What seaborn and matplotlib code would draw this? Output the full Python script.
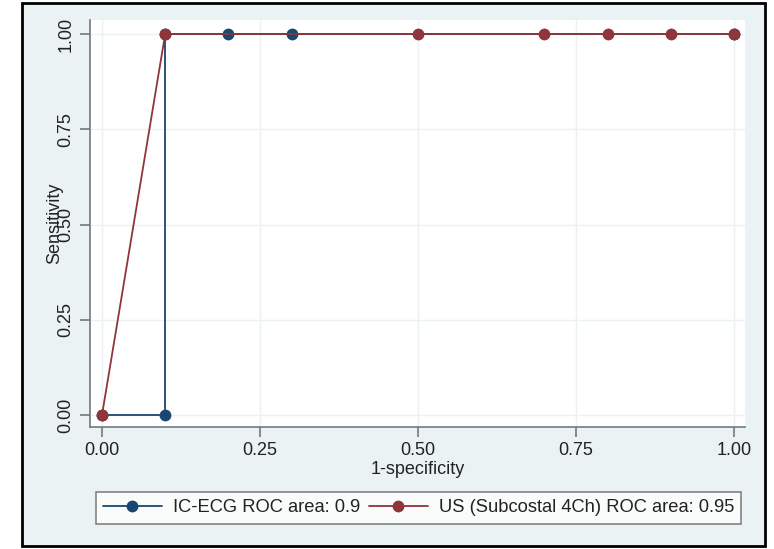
import numpy as np
import pandas as pd
import matplotlib.pyplot as plt
import seaborn as sns
from matplotlib.patches import Rectangle

sns.set_theme(style="white")
plt.rcParams["font.family"] = ["Liberation Sans", "DejaVu Sans"]

# ROC curves
ecg_x = [0.0, 0.1, 0.1, 0.2, 0.3, 1.0]
ecg_y = [0.0, 0.0, 1.0, 1.0, 1.0, 1.0]
us_x = [0.0, 0.1, 0.5, 0.7, 0.8, 0.9, 1.0]
us_y = [0.0, 1.0, 1.0, 1.0, 1.0, 1.0, 1.0]
labels = ["IC-ECG ROC area: 0.9", "US (Subcostal 4Ch) ROC area: 0.95"]
ticks = [0.0, 0.25, 0.5, 0.75, 1.0]

df = pd.concat([
    pd.DataFrame({"x": ecg_x, "y": ecg_y, "curve": labels[0]}),
    pd.DataFrame({"x": us_x, "y": us_y, "curve": labels[1]}),
])

navy = "#1A476F"
maroon = "#90353B"
bg = "#EAF2F3"
axcol = "#6E7A80"

W, H = 774, 549
fig = plt.figure(figsize=(W / 100, H / 100), dpi=100)
fig.patch.set_facecolor("white")

# Stata style outer frame
frame = Rectangle((22 / W, 3 / H), (765 - 22) / W, (546 - 3) / H,
                  transform=fig.transFigure, facecolor=bg,
                  edgecolor="black", lw=2, zorder=-10)
fig.patches.append(frame)

ax = fig.add_axes([90 / W, 1 - 427 / H, (745 - 90) / W, (427 - 20) / H])
ax.set_facecolor("white")

sns.lineplot(data=df, x="x", y="y", hue="curve", palette=[navy, maroon],
             estimator=None, sort=False, units="curve", marker="o",
             markersize=8.5, markeredgewidth=0, lw=1.3, ax=ax, legend=False)

ax.set_xlim((90 - 102) / 632, (745 - 102) / 632)
ax.set_ylim(-(427 - 415) / 381, 1 + (34 - 20) / 381)

ax.set_xticks(ticks)
ax.set_yticks(ticks)
ax.set_xticklabels([f"{t:.2f}" for t in ticks], fontsize=13)
ax.set_yticklabels([f"{t:.2f}" for t in ticks], fontsize=13, rotation=90, va="center")

ax.grid(True, color=bg, lw=1)
for s in ["top", "right"]:
    ax.spines[s].set_visible(False)
for s in ["left", "bottom"]:
    ax.spines[s].set_color(axcol)
    ax.spines[s].set_linewidth(1.2)
ax.tick_params(axis="both", which="major", direction="out", length=7, width=1.2,
               color=axcol, labelcolor="#222222", pad=4, left=True, bottom=True)

ax.set_xlabel("1-specificity", fontsize=13, labelpad=1, color="#222222")
ax.set_ylabel("Sensitivity", fontsize=13, labelpad=-4, color="#222222")

handles = [plt.Line2D([], [], color=c, marker="o", markersize=8.5, markeredgewidth=0, lw=1.3)
           for c in [navy, maroon]]
leg = fig.legend(handles, labels, loc="center", bbox_to_anchor=(418.5 / W, 1 - 508 / H),
                 ncol=2, fontsize=13.2, frameon=True, fancybox=False, handlelength=3.2,
                 handletextpad=0.6, columnspacing=0.5, borderpad=0.4,
                 borderaxespad=0, labelcolor="#222222")
leg.get_frame().set_edgecolor("#666666")
leg.get_frame().set_linewidth(1.2)

plt.savefig("out.png", dpi=100)
